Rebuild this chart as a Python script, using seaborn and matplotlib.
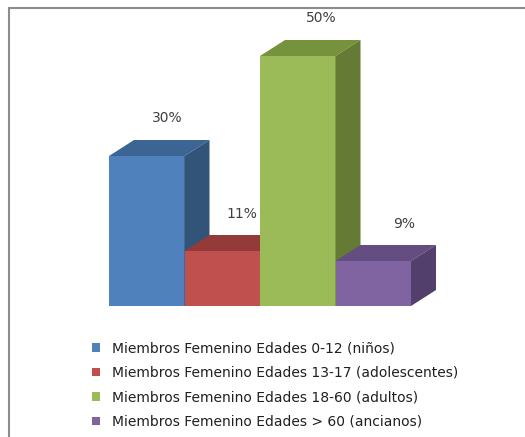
import matplotlib
matplotlib.use("Agg")
import matplotlib.pyplot as plt
from matplotlib.patches import Polygon, Patch
from matplotlib.lines import Line2D
import seaborn as sns

# Chart data
categories = [
    "Miembros Femenino Edades 0-12 (niños)",
    "Miembros Femenino Edades 13-17 (adolescentes)",
    "Miembros Femenino Edades 18-60 (adultos)",
    "Miembros Femenino Edades > 60 (ancianos)",
]
values = [30, 11, 50, 9]
value_labels = ["30%", "11%", "50%", "9%"]

# Face colours: front, top, side
front_colors = ["#4F81BD", "#C0504D", "#9BBB59", "#8064A2"]
top_colors = ["#3D6594", "#943B39", "#77923D", "#644D80"]
side_colors = ["#335479", "#7E3230", "#657A35", "#533F6B"]

sns.set_theme(style="white")
plt.rcParams["font.family"] = ["DejaVu Sans"]

W, H, DPI = 525, 437, 100
fig = plt.figure(figsize=(W / DPI, H / DPI), dpi=DPI)
fig.patch.set_facecolor("white")

# plot area holds the front faces of the columns
left_px, right_px, base_px, top_px = 109, 411, 306, 56
ax = fig.add_axes([left_px / W, (H - base_px) / H,
                   (right_px - left_px) / W, (base_px - top_px) / H])

sns.barplot(x=categories, y=values, hue=categories, palette=front_colors,
            width=1.0, legend=False, ax=ax, saturation=1.0)
ax.set_xlim(-0.5, 3.5)
ax.set_ylim(0, 50)
ax.axis("off")

# depth of the 3D extrusion (pixels -> data units)
px_per_x = (right_px - left_px) / 4.0
px_per_y = (base_px - top_px) / 50.0
dx = 25 / px_per_x
dy = 16 / px_per_y

label_dx = [15, 14, 17, 22]
for i, bar in enumerate(ax.patches):
    x0 = bar.get_x()
    x1 = x0 + bar.get_width()
    h = bar.get_height()
    z = 2 + 3 * i
    bar.set_zorder(z)
    bar.set_edgecolor("none")
    bar.set_clip_on(False)
    top = Polygon([(x0, h), (x0 + dx, h + dy), (x1 + dx, h + dy), (x1, h)],
                  closed=True, facecolor=top_colors[i], edgecolor="none",
                  zorder=z + 1, clip_on=False)
    side = Polygon([(x1, 0), (x1, h), (x1 + dx, h + dy), (x1 + dx, dy)],
                   closed=True, facecolor=side_colors[i], edgecolor="none",
                   zorder=z + 1, clip_on=False)
    ax.add_patch(top)
    ax.add_patch(side)
    ax.annotate(value_labels[i], xy=(bar.get_x() + bar.get_width() / 2, h),
                xytext=(label_dx[i], 27), textcoords="offset points",
                ha="center", va="center", fontsize=10, color="#404040",
                annotation_clip=False, zorder=20)

# legend
handles = [Patch(facecolor=c, edgecolor="none") for c in front_colors]
fig.legend(handles, categories, loc="upper left",
           bbox_to_anchor=(79 / W, 1 - 329 / H), frameon=False,
           fontsize=10, handlelength=0.6, handleheight=0.55,
           handletextpad=0.9, labelspacing=0.75, labelcolor="#202020")

# chart frame lines (top and left)
fig.add_artist(Line2D([9 / W, 1.0], [1 - 8 / H, 1 - 8 / H],
                      transform=fig.transFigure, color="#8C8C8C", lw=1.5))
fig.add_artist(Line2D([9 / W, 9 / W], [1 - 8 / H, 0.0],
                      transform=fig.transFigure, color="#8C8C8C", lw=1.5))

fig.savefig("out.png", dpi=DPI)
